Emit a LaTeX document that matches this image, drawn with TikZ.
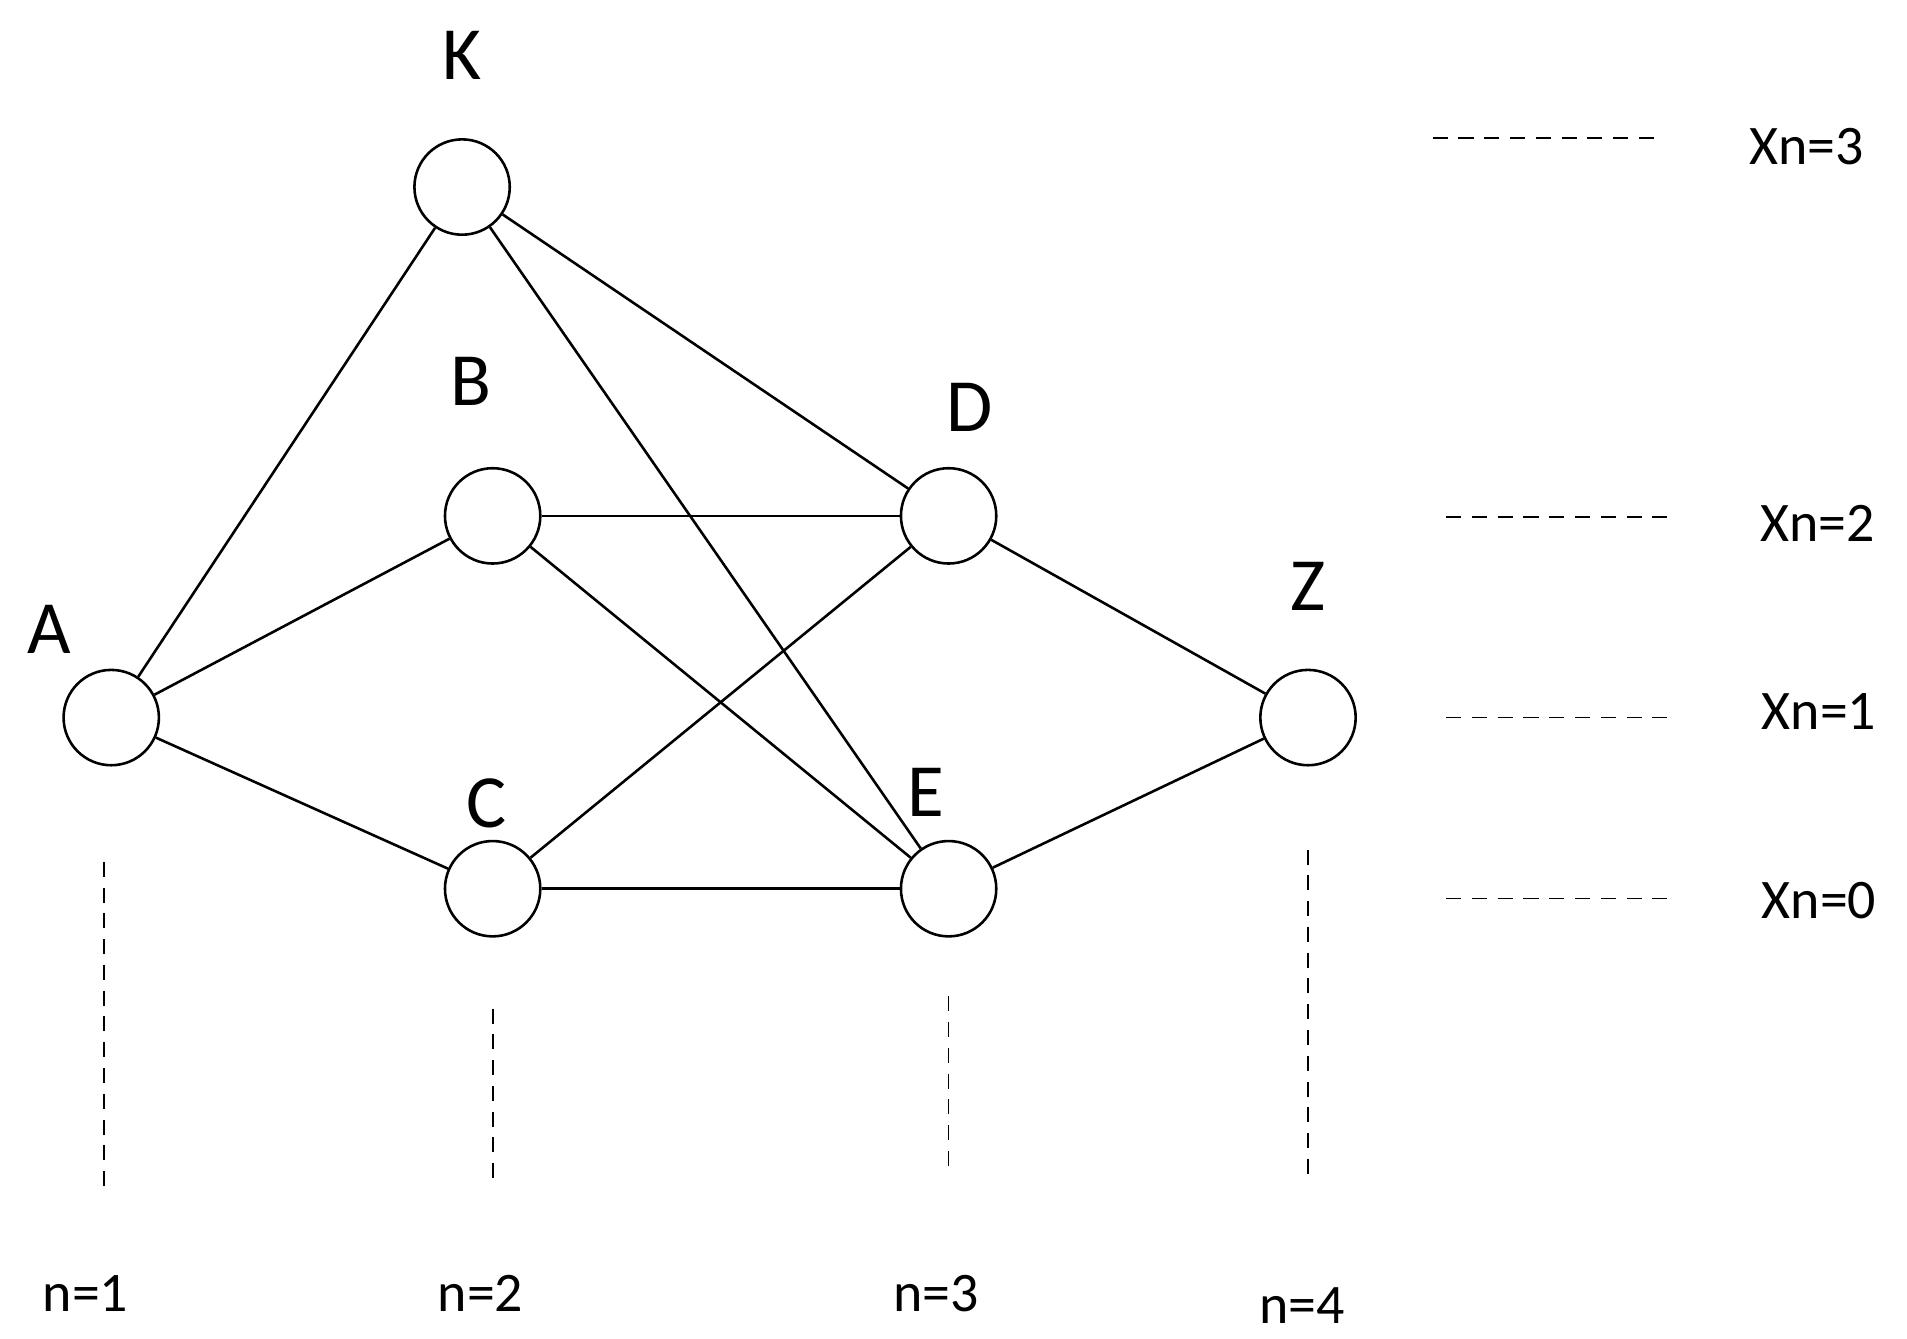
\documentclass[tikz,border=0pt]{standalone}
\usepackage{fontspec}
\setmainfont{Carlito}
\begin{document}
\begin{tikzpicture}[x=0.02cm,y=-0.02cm,
  vtx/.style={circle,draw,line width=1.2pt,minimum size=1.56cm,inner sep=0pt,fill=white},
  big/.style={font=\fontsize{35}{40}\selectfont},
  lab/.style={font=\fontsize{26}{30}\selectfont},
  dsh/.style={dash pattern=on 7pt off 5pt,line width=0.8pt},
  edge/.style={line width=1.2pt}]
\useasboundingbox (0,0) rectangle (1560,1095);
\node[vtx] (K) at (378,153) {};
\node[vtx] (B) at (403,422) {};
\node[vtx] (D) at (776,422) {};
\node[vtx] (A) at (91,587) {};
\node[vtx] (C) at (403,727) {};
\node[vtx] (E) at (776,727) {};
\node[vtx] (Z) at (1070,587) {};
\node[big] (lK) at (378,45) {K};
\node[big] (lB) at (385,312) {B};
\node[big] (lD) at (793,333) {D};
\node[big] (lA) at (40,515) {A};
\node[big] (lC) at (398,657) {C};
\node[big] (lE) at (757,648) {E};
\node[big] (lZ) at (1070,480) {Z};
\foreach \u/\v in {A/K,A/B,A/C,K/D,K/E,B/D,B/E,C/D,C/E,D/Z,E/Z}
  \draw[edge] (\u) -- (\v);
\coordinate (v1a) at (85,705); \coordinate (v1b) at (85,975);
\coordinate (v2a) at (403,825); \coordinate (v2b) at (403,965);
\coordinate (v3a) at (776,815); \coordinate (v3b) at (776,955);
\coordinate (v4a) at (1070,695); \coordinate (v4b) at (1070,965);
\foreach \i in {1,2,3,4} \draw[dsh] (v\i a) -- (v\i b);
\node[lab] (n1) at (70,1058) {n=1};
\node[lab] (n2) at (393,1058) {n=2};
\node[lab] (n3) at (766,1058) {n=3};
\node[lab] (n4) at (1065,1068) {n=4};
\coordinate (h3a) at (1172,113); \coordinate (h3b) at (1355,113);
\coordinate (h2a) at (1183,423); \coordinate (h2b) at (1365,423);
\coordinate (h1a) at (1183,587); \coordinate (h1b) at (1365,587);
\coordinate (h0a) at (1183,735); \coordinate (h0b) at (1365,735);
\foreach \i in {0,1,2,3} \draw[dsh] (h\i a) -- (h\i b);
\node[lab] (x3) at (1478,120) {Xn=3};
\node[lab] (x2) at (1487,428) {Xn=2};
\node[lab] (x1) at (1488,582) {Xn=1};
\node[lab] (x0) at (1488,737) {Xn=0};
\end{tikzpicture}
\end{document}
